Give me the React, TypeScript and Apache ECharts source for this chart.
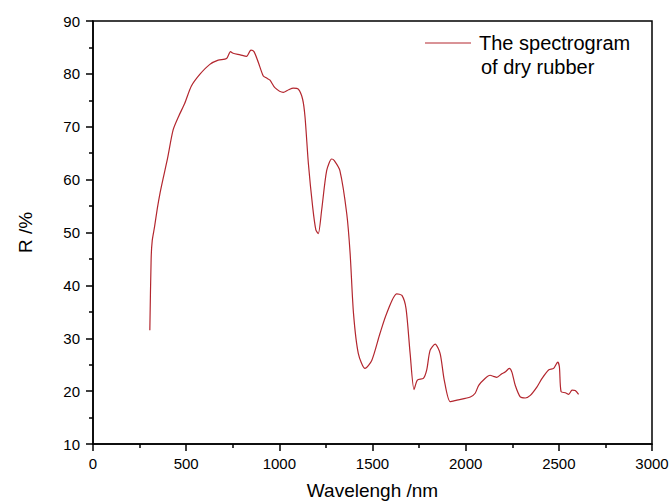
import React, { useEffect, useRef } from "react";
import * as echarts from "echarts";

const wavelengths: number[] = [
  305, 312, 318, 330, 345, 360, 375, 400, 430, 460, 492, 528, 573, 627, 672, 717, 738, 752, 790, 824,
  842, 848, 864, 887, 914, 932, 950, 976, 1021, 1050, 1075, 1102, 1125, 1138, 1156, 1179, 1196, 1209,
  1227, 1254, 1281, 1295, 1325, 1362, 1380, 1398, 1424, 1460, 1496, 1540, 1576, 1630, 1658, 1680, 1702,
  1723, 1741, 1773, 1791, 1809, 1836, 1863, 1885, 1917, 1953, 2025, 2051, 2070, 2104, 2131, 2149, 2167,
  2194, 2212, 2234, 2248, 2266, 2293, 2320, 2347, 2383, 2410, 2445, 2472, 2494, 2503, 2512, 2535, 2553,
  2571, 2588, 2606,
];

const reflectance: number[] = [
  31.5, 45, 48.5, 51, 54.5, 57.5, 60, 64, 69.4, 72, 74.4, 77.7, 79.9, 81.8, 82.6, 82.9, 84.2, 83.9, 83.6, 83.3,
  84.3, 84.5, 84.2, 82.2, 79.6, 79.2, 78.8, 77.4, 76.5, 77, 77.3, 77.1, 75.2, 71.8, 63, 54.8, 50.5, 49.8,
  54.2, 61.7, 63.9, 63.6, 61.7, 53.5, 46, 34.7, 27.1, 24.3, 25.8, 30.9, 34.7, 38.4, 38.1, 35.6, 27.1,
  20.3, 22.1, 22.4, 24, 27.7, 28.9, 27.1, 22.1, 18, 18.3, 18.9, 19.6, 21.1, 22.4, 23, 22.8, 22.6,
  23.3, 23.6, 24.3, 23.6, 21.1, 18.9, 18.7, 19.2, 20.8, 22.4, 24, 24.3, 25.5, 24.6, 19.9, 19.7, 19.4,
  20.2, 20.1, 19.4,
];

const legendLines: string[] = ["The spectrogram", "of dry rubber"];
const xAxisTitle = "Wavelengh /nm";
const yAxisTitle = "R /%";

const LINE_COLOR = "#b3262e";
const FONT = "'Liberation Sans', Arial, sans-serif";

export default function App() {
  const ref = useRef<HTMLDivElement>(null);

  useEffect(() => {
    if (!ref.current) return;
    const chart = echarts.init(ref.current, undefined, { renderer: "svg" });
    const data = wavelengths.map((w, i) => [w, reflectance[i]]);
    chart.setOption({
      animation: false,
      backgroundColor: "#ffffff",
      textStyle: { fontFamily: FONT },
      grid: {
        left: 93,
        right: 20,
        top: 21,
        bottom: 60,
        containLabel: false,
        outerBoundsMode: "none",
        show: true,
        borderColor: "#000",
        borderWidth: 1.5,
        backgroundColor: "transparent",
      },
      xAxis: {
        type: "value",
        min: 0,
        max: 3000,
        interval: 500,
        name: xAxisTitle,
        nameLocation: "middle",
        nameGap: 37,
        nameTextStyle: { fontSize: 19, color: "#000", fontFamily: FONT },
        axisLine: { show: true, onZero: false, lineStyle: { color: "#000", width: 1.5 } },
        axisTick: { show: true, inside: false, length: 7, lineStyle: { color: "#000", width: 1.5 } },
        minorTick: { show: true, splitNumber: 2, length: 4, lineStyle: { color: "#000", width: 1.5 } },
        axisLabel: {
          fontSize: 15,
          color: "#000",
          margin: 12,
          fontFamily: FONT,
          formatter: (v: number) => String(v),
        },
        splitLine: { show: false },
      },
      yAxis: {
        type: "value",
        min: 10,
        max: 90,
        interval: 10,
        name: yAxisTitle,
        nameLocation: "middle",
        nameGap: 58,
        nameRotate: 90,
        nameTextStyle: { fontSize: 19, color: "#000", fontFamily: FONT },
        axisLine: { show: true, onZero: false, lineStyle: { color: "#000", width: 1.5 } },
        axisTick: { show: true, inside: false, length: 7, lineStyle: { color: "#000", width: 1.5 } },
        minorTick: { show: true, splitNumber: 2, length: 4, lineStyle: { color: "#000", width: 1.5 } },
        axisLabel: {
          fontSize: 15,
          color: "#000",
          margin: 13,
          fontFamily: FONT,
          formatter: (v: number) => String(v),
        },
        splitLine: { show: false },
      },
      graphic: [
        {
          type: "line",
          shape: { x1: 425, y1: 43, x2: 471, y2: 43 },
          style: { stroke: LINE_COLOR, lineWidth: 1 },
        },
        {
          type: "text",
          x: 479,
          y: 43,
          style: {
            text: legendLines[0],
            fontSize: 20,
            fontFamily: FONT,
            fill: "#000",
            verticalAlign: "middle",
            align: "left",
          },
        },
        {
          type: "text",
          x: 481,
          y: 67,
          style: {
            text: legendLines[1],
            fontSize: 20,
            fontFamily: FONT,
            fill: "#000",
            verticalAlign: "middle",
            align: "left",
          },
        },
      ],
      series: [
        {
          type: "line",
          name: legendLines.join(" "),
          data,
          showSymbol: false,
          smooth: 0.25,
          lineStyle: { color: LINE_COLOR, width: 1.2 },
        },
      ],
    });
    return () => chart.dispose();
  }, []);

  return <div ref={ref} style={{ width: 672, height: 504, position: "absolute", left: 0, top: 0 }} />;
}
